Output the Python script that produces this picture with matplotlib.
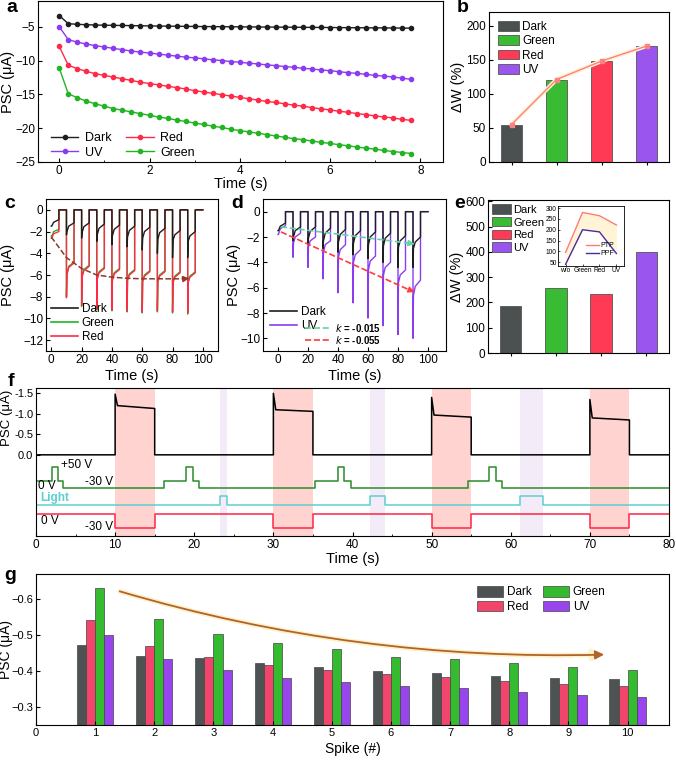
import matplotlib
matplotlib.use('Agg')
import matplotlib.pyplot as plt
from matplotlib.patches import Patch
from matplotlib.lines import Line2D
from matplotlib.ticker import AutoMinorLocator
import numpy as np

plt.rcParams['font.family'] = ['Liberation Sans', 'DejaVu Sans']
plt.rcParams['font.size'] = 9
plt.rcParams['axes.linewidth'] = 0.8
plt.rcParams['xtick.labelsize'] = 8.5
plt.rcParams['ytick.labelsize'] = 8.5
plt.rcParams['xtick.direction'] = 'in'
plt.rcParams['ytick.direction'] = 'in'
plt.rcParams['xtick.major.size'] = 3
plt.rcParams['ytick.major.size'] = 3
plt.rcParams['xtick.minor.size'] = 1.5
plt.rcParams['ytick.minor.size'] = 1.5
plt.rcParams['xtick.major.pad'] = 2
plt.rcParams['ytick.major.pad'] = 2
plt.rcParams['legend.frameon'] = False

# ---------------- data ----------------
# panel a : PSC vs time under pulses
time_a = np.round(np.arange(0, 7.81, 0.2), 1)
dark_a = [-3.35, -4.55, -4.65, -4.7, -4.75, -4.78, -4.8, -4.82, -4.84, -4.86,
          -4.88, -4.9, -4.92, -4.93, -4.95, -4.96, -4.98, -4.99, -5.0, -5.01,
          -5.02, -5.03, -5.04, -5.05, -5.06, -5.07, -5.08, -5.09, -5.1, -5.11,
          -5.12, -5.13, -5.14, -5.15, -5.16, -5.17, -5.18, -5.19, -5.2, -5.22]
uv_a = [-5.0, -6.9, -7.3, -7.55, -7.8, -8.0, -8.2, -8.4, -8.6, -8.75,
        -8.9, -9.05, -9.2, -9.35, -9.5, -9.6, -9.75, -9.9, -10.0, -10.15,
        -10.25, -10.4, -10.5, -10.65, -10.75, -10.9, -11.0, -11.15, -11.25, -11.4,
        -11.5, -11.65, -11.8, -11.9, -12.05, -12.2, -12.3, -12.45, -12.6, -12.8]
red_a = [-7.9, -10.7, -11.2, -11.6, -11.95, -12.2, -12.45, -12.7, -12.95, -13.2,
         -13.4, -13.6, -13.8, -14.0, -14.2, -14.45, -14.65, -14.85, -15.05, -15.25,
         -15.45, -15.65, -15.85, -16.05, -16.2, -16.4, -16.6, -16.75, -16.95, -17.15,
         -17.3, -17.5, -17.65, -17.85, -18.0, -18.2, -18.35, -18.5, -18.7, -18.85]
green_a = [-11.1, -14.9, -15.5, -16.0, -16.4, -16.75, -17.1, -17.35, -17.6, -17.85,
           -18.1, -18.35, -18.55, -18.8, -19.0, -19.25, -19.45, -19.7, -19.9, -20.15,
           -20.35, -20.55, -20.75, -20.95, -21.15, -21.35, -21.55, -21.7, -21.9, -22.1,
           -22.25, -22.45, -22.6, -22.8, -22.95, -23.1, -23.3, -23.45, -23.6, -23.75]

# panels b, e : weight change
conds = ['Dark', 'Green', 'Red', 'UV']
dw_b = [55, 121, 148, 170]
dw_e = [187, 258, 233, 398]
inset_cats = ['w/o', 'Green', 'Red', 'UV']
ptp = [95, 280, 265, 222]
ppf = [40, 200, 190, 90]

# panels c, d : pulse trains (per pulse: spike, value after spike, mid, end)
pulse_t0 = [0, 10, 20, 30, 40, 50, 60, 70, 80, 90]
dark_spike = [-1.5, -2.3, -2.6, -2.9, -3.2, -3.4, -3.7, -4.0, -4.4, -4.4]
dark_low = [-1.5, -2.0, -2.1, -2.3, -2.4, -2.5, -2.6, -2.7, -2.8, -2.9]
dark_mid = [-1.15, -1.5, -1.55, -1.7, -1.8, -1.9, -2.0, -2.1, -2.3, -2.4]
dark_end = [-0.9, -1.2, -1.2, -1.3, -1.4, -1.5, -1.6, -1.7, -1.9, -2.0]

red_spike = [-2.6, -8.1, -8.8, -9.1, -9.2, -9.3, -9.4, -9.3, -9.4, -9.5]
red_low = [-2.6, -6.0, -6.2, -6.4, -6.5, -6.5, -6.6, -6.6, -6.7, -6.7]
red_mid = [-2.2, -5.3, -5.6, -5.8, -5.9, -6.0, -6.1, -6.1, -6.2, -6.2]
red_end = [-2.0, -4.9, -5.2, -5.4, -5.5, -5.6, -5.7, -5.7, -5.8, -5.8]

green_spike = [-2.4, -8.0, -8.9, -9.2, -9.3, -9.4, -9.5, -9.4, -9.5, -9.6]
green_low = [-2.5, -5.9, -6.1, -6.3, -6.4, -6.4, -6.5, -6.5, -6.6, -6.6]
green_mid = [-2.0, -5.2, -5.5, -5.7, -5.8, -5.9, -6.0, -6.0, -6.1, -6.1]
green_end = [-1.8, -4.8, -5.1, -5.3, -5.4, -5.5, -5.6, -5.6, -5.7, -5.7]

uv_spike = [-1.8, -3.6, -4.4, -5.3, -6.4, -7.2, -8.4, -9.0, -9.7, -10.0]
uv_low = [-1.8, -2.5, -2.8, -3.2, -3.6, -4.0, -4.6, -5.0, -5.6, -6.6]
uv_mid = [-1.35, -2.0, -2.3, -2.6, -3.0, -3.4, -3.9, -4.4, -5.0, -5.9]
uv_end = [-1.1, -1.7, -2.0, -2.3, -2.6, -3.0, -3.5, -4.0, -4.6, -5.4]

trend_c_t = [0, 10, 20, 30, 40, 50, 60, 70, 80, 88]
trend_c_y = [-2.5, -4.4, -5.4, -6.0, -6.2, -6.3, -6.35, -6.35, -6.35, -6.35]
k_green_t = [2, 88]
k_green_y = [-1.2, -2.5]
k_red_t = [2, 88]
k_red_y = [-1.6, -6.2]

# panel f : PSC and stimulus waveforms
f_pulse_t0 = [10, 30, 50, 70]
f_spike = [-1.48, -1.5, -1.4, -1.35]
f_plat_start = [-1.2, -1.1, -0.97, -0.9]
f_plat_end = [-1.13, -1.06, -0.92, -0.85]
green_sw_t = [0, 2.0, 2.8, 3.4, 16.2, 19.0, 19.8, 20.6, 35.3, 38.2, 38.9, 39.8,
              54.6, 57.3, 58.1, 58.9, 80]
green_sw_v = [0, 50, 0, -30, 0, 50, 0, -30, 0, 50, 0, -30, 0, 50, 0, -30, -30]
light_t = [0, 23.2, 24.1, 42.2, 44.1, 61.2, 64.1, 80]
light_on = [0, 1, 0, 1, 0, 1, 0, 0]
gate_t = [0, 10, 15, 30, 35, 50, 55, 70, 75, 80]
gate_v = [0, -30, 0, -30, 0, -30, 0, -30, 0, 0]

# panel g : spike amplitudes
spikes = np.arange(1, 11)
g_dark = [-0.472, -0.443, -0.435, -0.422, -0.412, -0.401, -0.395, -0.386, -0.382, -0.378]
g_red = [-0.543, -0.469, -0.439, -0.418, -0.403, -0.393, -0.384, -0.373, -0.365, -0.358]
g_green = [-0.632, -0.544, -0.502, -0.478, -0.461, -0.440, -0.433, -0.422, -0.412, -0.404]
g_uv = [-0.500, -0.434, -0.404, -0.382, -0.369, -0.359, -0.352, -0.342, -0.333, -0.328]

# ---------------- style ----------------
C_DARK = '#1e1e1e'
C_UV = '#8c3cf0'
C_RED = '#ff2a48'
C_GREEN = '#22b422'
BAR_COLORS = ['#4b5151', '#39bb33', '#ff3a55', '#9a55ee']
G_COLORS = {'Dark': '#4d5252', 'Red': '#f2456c', 'Green': '#35bb30', 'UV': '#9945ee'}
LAB = 10.5

W, H = 676, 761


def box(l, t, r, b):
    return [l / W, 1 - b / H, (r - l) / W, (b - t) / H]


fig = plt.figure(figsize=(W / 100, H / 100), dpi=100)

# ---------------- a ----------------
ax = fig.add_axes(box(38, 1, 443, 162))
for y, c, lab in [(dark_a, C_DARK, 'Dark'), (uv_a, C_UV, 'UV'),
                  (red_a, C_RED, 'Red'), (green_a, C_GREEN, 'Green')]:
    ax.plot(time_a, y, '-o', color=c, ms=3, lw=1, label=lab)
ax.set_xlim(-0.47, 8.5)
ax.set_ylim(-25, -1.2)
ax.set_xticks([0, 2, 4, 6, 8])
ax.set_yticks([-25, -20, -15, -10, -5])
ax.xaxis.set_minor_locator(AutoMinorLocator(2))
ax.set_xlabel('Time (s)', fontsize=LAB, labelpad=0)
ax.set_ylabel('PSC (μA)', fontsize=LAB)
ax.yaxis.set_label_coords(-0.056, 0.5)
ax.legend(ncol=2, loc='upper left', bbox_to_anchor=(0.01, 0.24), fontsize=9,
          handlelength=2.2, columnspacing=1.2, labelspacing=0.2, handletextpad=0.5,
          borderpad=0.2)

# ---------------- b ----------------
ax = fig.add_axes(box(489, 12, 669, 162))
xb = np.arange(1, 5)
ax.bar(xb, dw_b, width=0.48, color=BAR_COLORS, edgecolor='#555555', lw=0.6)
ax.plot(xb, dw_b, color='#fff3d2', lw=3, zorder=3)
ax.plot(xb, dw_b, '-s', color='#ff8080', ms=2.5, lw=1, zorder=4)
ax.set_xlim(0.5, 4.5)
ax.set_ylim(0, 220)
ax.set_xticks(xb)
ax.set_xticklabels([])
ax.tick_params(axis='x', direction='out', length=2.5)
ax.set_yticks([0, 50, 100, 150, 200])
ax.set_ylabel('ΔW (%)', fontsize=LAB)
ax.yaxis.set_label_coords(-0.135, 0.5)
ax.legend([Patch(facecolor=c, edgecolor='#555555', lw=0.6) for c in BAR_COLORS], conds,
          loc='upper left', bbox_to_anchor=(0.0, 1.0), fontsize=8.5,
          handlelength=1.8, handleheight=0.9, labelspacing=0.2, handletextpad=0.25,
          borderpad=0.25)


# ---------------- c / d helpers ----------------
def pulse_trace(spike, low, mid, end):
    t, y = [], []
    for i, t0 in enumerate(pulse_t0):
        if i > 0:
            t.append(t0)
            y.append(0)
        t += [t0, t0 + 0.3, t0 + 1.5, t0 + 5, t0 + 5]
        y += [spike[i], low[i], mid[i], end[i], 0]
    t.append(100)
    y.append(0)
    return t, y


# ---------------- c ----------------
ax = fig.add_axes(box(46, 199, 218, 351))
tg, yg = pulse_trace(green_spike, green_low, green_mid, green_end)
tr, yr = pulse_trace(red_spike, red_low, red_mid, red_end)
td, yd = pulse_trace(dark_spike, dark_low, dark_mid, dark_end)
ax.plot(tg, yg, color=C_GREEN, lw=1)
ax.plot(tr, yr, color=C_RED, lw=1)
ax.plot(td, yd, color=C_DARK, lw=1)
ax.plot(trend_c_t, trend_c_y, '--', color='#8b3a2a', lw=1.1, zorder=5)
ax.annotate('', xy=(91, -6.3), xytext=(trend_c_t[-1], trend_c_y[-1]),
            arrowprops=dict(arrowstyle='-|>', color='#8b3a2a', lw=1, mutation_scale=9))
ax.set_xlim(-3.5, 110)
ax.set_ylim(-13, 1)
ax.set_xticks([0, 20, 40, 60, 80, 100])
ax.set_yticks([0, -2, -4, -6, -8, -10, -12])
ax.set_xlabel('Time (s)', fontsize=LAB, labelpad=2)
ax.set_ylabel('PSC (μA)', fontsize=LAB)
ax.yaxis.set_label_coords(-0.18, 0.5)
h = [Line2D([], [], color=C_DARK, lw=1.2), Line2D([], [], color=C_GREEN, lw=1.2),
     Line2D([], [], color=C_RED, lw=1.2)]
ax.legend(h, ['Dark', 'Green', 'Red'], loc='lower left', bbox_to_anchor=(-0.02, 0.0),
          fontsize=8.5, handlelength=2.3, labelspacing=0.15, handletextpad=0.3,
          borderpad=0.2)

# ---------------- d ----------------
ax = fig.add_axes(box(263, 199, 446, 351))
tu, yu = pulse_trace(uv_spike, uv_low, uv_mid, uv_end)
ax.plot(tu, yu, color=C_UV, lw=1)
ax.plot(td, yd, color=C_DARK, lw=1)
ax.plot(k_green_t, k_green_y, '--', color='#5fd6a0', lw=1.2, zorder=5)
ax.plot(k_red_t, k_red_y, '--', color='#ff3b3b', lw=1.2, zorder=5)
ax.annotate('', xy=(91, k_green_y[-1] - 0.05), xytext=(k_green_t[-1], k_green_y[-1]),
            arrowprops=dict(arrowstyle='-|>', color='#5fd6a0', lw=1, mutation_scale=9))
ax.annotate('', xy=(91, k_red_y[-1] - 0.15), xytext=(k_red_t[-1], k_red_y[-1]),
            arrowprops=dict(arrowstyle='-|>', color='#ff3b3b', lw=1, mutation_scale=9))
ax.set_xlim(-10, 112)
ax.set_ylim(-11, 1)
ax.set_xticks([0, 20, 40, 60, 80, 100])
ax.set_yticks([0, -2, -4, -6, -8, -10])
ax.set_xlabel('Time (s)', fontsize=LAB, labelpad=2)
ax.set_ylabel('PSC (μA)', fontsize=LAB)
ax.yaxis.set_label_coords(-0.12, 0.5)
leg1 = ax.legend([Line2D([], [], color=C_DARK, lw=1.2), Line2D([], [], color=C_UV, lw=1.2)],
                 ['Dark', 'UV'], loc='upper left', bbox_to_anchor=(0.0, 0.34),
                 fontsize=8.5, handlelength=2.3, labelspacing=0.15, handletextpad=0.3,
                 borderpad=0.1)
ax.add_artist(leg1)
ax.legend([Line2D([], [], color='#5fd6a0', lw=1.2, ls='--'),
           Line2D([], [], color='#ff3b3b', lw=1.2, ls='--')],
          [r'$k$ = -0.015', r'$k$ = -0.055'], loc='upper left',
          bbox_to_anchor=(0.2, 0.23), prop=dict(size=7, weight='bold'),
          handlelength=2.6, labelspacing=0.0, handletextpad=0.4, borderpad=0.1)

# ---------------- e ----------------
ax = fig.add_axes(box(488, 200, 669, 353))
ax.bar(xb, dw_e, width=0.48, color=BAR_COLORS, edgecolor='#555555', lw=0.6)
ax.set_xlim(0.5, 4.5)
ax.set_ylim(0, 605)
ax.set_xticks(xb)
ax.set_xticklabels([])
ax.tick_params(axis='x', direction='out', length=2.5)
ax.set_yticks([0, 100, 200, 300, 400, 500, 600])
ax.set_ylabel('ΔW (%)', fontsize=LAB)
ax.yaxis.set_label_coords(-0.135, 0.5)
ax.legend([Patch(facecolor=c, edgecolor='#555555', lw=0.6) for c in BAR_COLORS], conds,
          loc='upper left', bbox_to_anchor=(0.0, 1.0), fontsize=8,
          handlelength=1.7, handleheight=0.9, labelspacing=0.2, handletextpad=0.2,
          borderpad=0.2, borderaxespad=0.2)

ins = fig.add_axes(box(558, 206, 624, 266))
xi = np.arange(4)
ins.fill_between(xi, ptp, ppf, color='#fff4d6', lw=0)
ins.plot(xi, ptp, color='#ff7a7a', lw=1, label='PTP')
ins.plot(xi, ppf, color='#4b2aa0', lw=1, label='PPF')
ins.set_xlim(-0.45, 3.45)
ins.set_ylim(32, 310)
ins.set_xticks(xi)
ins.set_xticklabels(inset_cats)
ins.set_yticks([50, 100, 150, 200, 250, 300])
ins.tick_params(labelsize=4.8, length=1.5, pad=1, width=0.5)
for s in ins.spines.values():
    s.set_linewidth(0.6)
ins.legend(loc='lower right', bbox_to_anchor=(0.92, 0.08), fontsize=5,
           handlelength=1.8, labelspacing=0.1, handletextpad=0.3, borderpad=0.1)

# ---------------- f ----------------
ax = fig.add_axes(box(36, 388, 669, 536))
for t0 in f_pulse_t0:
    ax.axvspan(t0, t0 + 5, color='#ffd3cf', lw=0, zorder=0)
for i in range(1, len(light_t) - 1, 2):
    ax.axvspan(light_t[i], light_t[i + 1], color='#f3ebf7', lw=0, zorder=0)

tf, yf = [0], [0]
for i, t0 in enumerate(f_pulse_t0):
    tf += [t0, t0, t0 + 0.3, t0 + 5, t0 + 5]
    yf += [0, f_spike[i], f_plat_start[i], f_plat_end[i], 0]
tf.append(80)
yf.append(0)
ax.plot(tf, yf, color='black', lw=1.1)

green_lvl = {0: 0.64, 50: 0.30, -30: 0.82}
ax.step(green_sw_t, [green_lvl[v] for v in green_sw_v], where='post', color='#2a8c2a', lw=1.1)
ax.step(light_t, [1.23 - 0.23 * s for s in light_on], where='post', color='#5ccfd0', lw=1.1)
gate_lvl = {0: 1.45, -30: 1.78}
ax.step(gate_t, [gate_lvl[v] for v in gate_v], where='post', color='#ff2448', lw=1.1)

ax.text(3.2, 0.24, '+50 V', fontsize=8.5, va='center')
ax.text(6.2, 0.66, '-30 V', fontsize=8.5, va='center')
ax.text(0.2, 0.77, '0 V', fontsize=8.5, va='center')
ax.text(0.5, 1.06, 'Light', fontsize=8.5, va='center', color='#5ccfd0', fontweight='bold')
ax.text(0.6, 1.62, '0 V', fontsize=8.5, va='center')
ax.text(6.2, 1.77, '-30 V', fontsize=8.5, va='center')

ax.set_xlim(0, 80)
ax.set_ylim(1.98, -1.63)
ax.set_xticks(range(0, 81, 10))
ax.xaxis.set_minor_locator(AutoMinorLocator(2))
ax.set_yticks([0, -0.5, -1.0, -1.5])
ax.set_yticklabels(['0.0', '-0.5', '-1.0', '-1.5'])
ax.tick_params(axis='y', labelsize=8)
ax.set_xlabel('Time (s)', fontsize=LAB, labelpad=1)
ax.set_ylabel('PSC (μA)', fontsize=9.5)
ax.yaxis.set_label_coords(-0.036, 0.8)

# ---------------- g ----------------
ax = fig.add_axes(box(36, 574, 669, 725))
base = -0.25
wg = 0.153
for k, (name, vals) in enumerate([('Dark', g_dark), ('Red', g_red),
                                  ('Green', g_green), ('UV', g_uv)]):
    ax.bar(spikes + (k - 1.5) * wg, np.array(vals) - base, bottom=base, width=wg,
           color=G_COLORS[name], edgecolor='#444444', lw=0.5, label=name)
ax.annotate('', xy=(9.65, -0.446), xytext=(1.37, -0.624),
            arrowprops=dict(arrowstyle='-|>', color='#fff0c8', lw=3.5, mutation_scale=14,
                            connectionstyle='arc3,rad=0.08'))
ax.annotate('', xy=(9.65, -0.446), xytext=(1.37, -0.624),
            arrowprops=dict(arrowstyle='-|>', color='#b0642a', lw=1.3, mutation_scale=13,
                            connectionstyle='arc3,rad=0.08'))
ax.set_xlim(0, 10.7)
ax.set_ylim(base, -0.67)
ax.set_xticks(range(0, 11))
ax.set_yticks([-0.3, -0.4, -0.5, -0.6])
ax.tick_params(labelsize=8)
ax.set_xlabel('Spike (#)', fontsize=10, labelpad=3)
ax.set_ylabel('PSC (μA)', fontsize=10)
ax.yaxis.set_label_coords(-0.036, 0.5)
ax.legend(ncol=2, loc='upper left', bbox_to_anchor=(0.68, 0.99), fontsize=8.5,
          handlelength=2.2, handleheight=1.0, columnspacing=1.0, labelspacing=0.2,
          handletextpad=0.3)

# ---------------- panel letters ----------------
for lab, x, y in [('a', 12, 8), ('b', 463, 8), ('c', 10, 204), ('d', 237, 204),
                  ('e', 460, 204), ('f', 11, 381), ('g', 10, 576)]:
    fig.text(x / W, 1 - y / H, lab, fontsize=14, fontweight='bold', ha='center', va='center')

fig.savefig('out.png', dpi=100)
